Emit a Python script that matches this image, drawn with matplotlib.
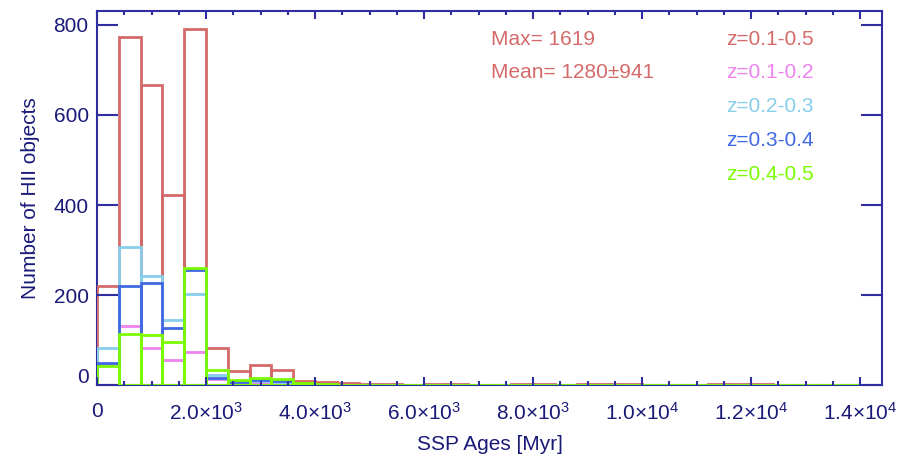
import numpy as np
import matplotlib
matplotlib.use('Agg')
import matplotlib.pyplot as plt
from matplotlib.transforms import ScaledTranslation

plt.rcParams['font.family'] = ['Liberation Sans', 'DejaVu Sans']
plt.rcParams['mathtext.fontset'] = 'custom'
plt.rcParams['mathtext.rm'] = 'Liberation Sans'
plt.rcParams['mathtext.it'] = 'Liberation Sans'

# histogram bins, 400 Myr wide
bin_width = 400
bin_left = np.arange(0, 14400, bin_width)

z_all = [221, 772, 665, 423, 790, 84, 33, 45, 34, 10, 7, 5, 3, 4, 2, 3, 4, 2,
         2, 3, 3, 2, 4, 3, 4, 2, 1, 2, 3, 4, 3, 2, 1, 2, 1, 1]
z_12 = [45, 132, 84, 56, 75, 14, 5, 6, 3, 2, 1, 1, 1, 1, 0, 1, 1, 0,
        0, 1, 1, 0, 1, 1, 1, 0, 0, 0, 1, 1, 0, 0, 0, 0, 0, 0]
z_23 = [84, 307, 242, 145, 202, 23, 8, 10, 8, 3, 2, 2, 1, 1, 1, 1, 1, 1,
        0, 1, 1, 1, 1, 1, 1, 1, 0, 1, 1, 1, 1, 1, 0, 1, 0, 0]
z_34 = [49, 221, 228, 128, 256, 17, 8, 12, 9, 3, 2, 1, 1, 1, 0, 1, 1, 1,
        1, 0, 1, 0, 1, 0, 1, 0, 0, 0, 0, 1, 1, 0, 0, 0, 0, 0]
z_45 = [43, 115, 113, 97, 261, 34, 12, 16, 14, 5, 3, 2, 1, 1, 1, 1, 1, 1,
        1, 1, 0, 1, 1, 1, 1, 1, 1, 1, 1, 1, 1, 1, 1, 1, 1, 1]

labels = ['z=0.1-0.5', 'z=0.1-0.2', 'z=0.2-0.3', 'z=0.3-0.4', 'z=0.4-0.5']
colors = ['#d46a6a', '#ee82ee', '#87ceeb', '#4169e1', '#7cfc00']

xtick_vals = [0, 2000, 4000, 6000, 8000, 10000, 12000, 14000]
xtick_text = ['0', r'2.0$\times$10$^{3}$', r'4.0$\times$10$^{3}$', r'6.0$\times$10$^{3}$',
              r'8.0$\times$10$^{3}$', r'1.0$\times$10$^{4}$', r'1.2$\times$10$^{4}$',
              r'1.4$\times$10$^{4}$']
ytick_vals = [0, 200, 400, 600, 800]

axcol = '#2e2ea0'
txtcol = '#1a1a78'

fig = plt.figure(figsize=(9.16, 4.61), dpi=100)
ax = fig.add_axes([0.1059, 0.1638, 0.8570, 0.8123])

for vals, col in zip([z_all, z_12, z_23, z_34, z_45], colors):
    ax.bar(bin_left, vals, width=bin_width, align='edge', fill=False,
           edgecolor=col, lw=2)

ax.set_xlim(0, 14400)
ax.set_ylim(0, 830)
ax.set_xticks(xtick_vals)
ax.set_xticklabels(xtick_text)
ax.set_xticks(np.arange(0, 14401, 500), minor=True)
ax.set_yticks(ytick_vals)

for sp in ax.spines.values():
    sp.set_color(axcol)
    sp.set_linewidth(1.5)
    sp.set_zorder(0.5)

ax.tick_params(axis='both', which='both', direction='in', top=True, right=True,
               colors=axcol, labelcolor=txtcol, labelsize=15)
ax.tick_params(axis='x', which='major', length=6, width=1.5, pad=12)
ax.tick_params(axis='x', which='minor', length=3, width=1.5)
ax.tick_params(axis='y', which='major', length=15, width=1.5, pad=6)

# the zero label on y sits a little above the axis
lab0 = ax.get_yticklabels()[0]
lab0.set_transform(lab0.get_transform() + ScaledTranslation(0, 7 / 72, fig.dpi_scale_trans))

ax.set_xlabel('SSP Ages [Myr]', fontsize=15, color=txtcol, labelpad=8)
ax.set_ylabel('Number of HII objects', fontsize=15, color=txtcol, labelpad=10)

fig.text(491 / 916, 1 - 39 / 461, 'Max= 1619', color=colors[0], fontsize=15, va='center')
fig.text(491 / 916, 1 - 73 / 461, 'Mean= 1280\u00b1941', color=colors[0], fontsize=15, va='center')
for i, (lab, col) in enumerate(zip(labels, colors)):
    fig.text(726 / 916, 1 - (39 + 34 * i) / 461, lab, color=col, fontsize=15, va='center')

fig.savefig('out.png', dpi=100)
